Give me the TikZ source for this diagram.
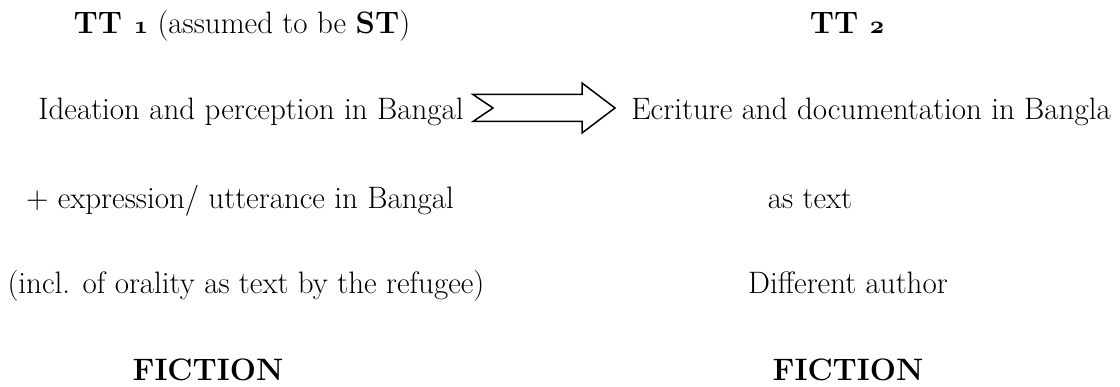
\documentclass[tikz,border=0pt]{standalone}
\usepackage{tikz}
\usetikzlibrary{arrows}
\newcommand{\osn}[1]{{\usefont{OML}{cmm}{b}{it}#1}}
\newcommand{\bigtxt}{\fontsize{31}{37}\selectfont}

\begin{document}
\begin{tikzpicture}[x=1pt,y=-1pt,font=\bigtxt]
     \useasboundingbox (0,0) rectangle (1120,387);
     \draw(242,34) node[anchor=base](ttone){\textbf{TT \osn{1}} (assumed to be \textbf{ST})};
     \draw(847,34) node[anchor=base](tttwo){\textbf{TT \osn{2}}};
     \draw(251,120) node[anchor=base](ideation){Ideation and perception in Bangal};
     \draw(871,120) node[anchor=base](ecriture){Ecriture and documentation in Bangla};
     \draw(240,209) node[anchor=base](expression){+ expression/ utterance in Bangal};
     \draw(810,209) node[anchor=base](astext){as text};
     \draw(246,294) node[anchor=base](orality){(incl. of orality as text by the refugee)};
     \draw(848,294) node[anchor=base](author){Different author};
     \draw(208,381) node[anchor=base](fictionl){\textbf{FICTION}};
     \draw(848,381) node[anchor=base](fictionr){\textbf{FICTION}};
     % block arrow between the two columns
     \coordinate (tail) at (473,108);
     \coordinate (tip) at (615,108);
     \draw[line width=1.5pt,line join=miter] (tail) ++(0,-13.5) -- ++(109,0) -- ++(0,-11.5) --
       (tip) -- ++(-33,25) -- ++(0,-11.5) -- ++(-109,0) -- ++(20,-13.5) -- cycle;
\end{tikzpicture}
\end{document}
